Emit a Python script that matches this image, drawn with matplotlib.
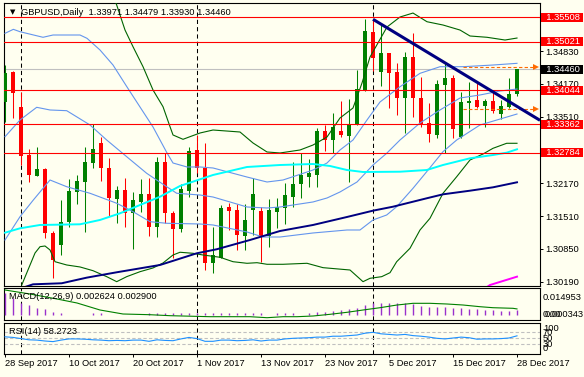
import numpy as np
import pandas as pd
import matplotlib
matplotlib.use("Agg")
import matplotlib.pyplot as plt
import matplotlib.transforms as mtrans

plt.rcParams["font.family"] = ["Liberation Sans", "DejaVu Sans"]
plt.rcParams["font.size"] = 6.7

W, H = 584, 377
BG = "#FFFFF0"
UP, DN = "#008000", "#FF0000"

# daily bars 28 Sep - 28 Dec 2017 (no bar on 25 Dec)
dates = pd.bdate_range("2017-09-28", "2017-12-28")
dates = dates[dates != pd.Timestamp("2017-12-25")]
# bar numbers, 0 = 2 Oct 2017 (first bar of October)
x = np.arange(len(dates)) - 2

opens = [1.33812, 1.34403, 1.33699, 1.32739, 1.32323, 1.32458, 1.31176, 1.30928, 1.31385, 1.32001,
         1.32202, 1.32584, 1.32975, 1.32484, 1.31854, 1.32035, 1.31566, 1.31800, 1.31955, 1.31297,
         1.32592, 1.31578, 1.31250, 1.32015, 1.32840, 1.32484, 1.30560, 1.30673, 1.31687, 1.31633,
         1.31116, 1.31633, 1.31613, 1.31116, 1.31598, 1.31679, 1.31900, 1.32156, 1.32303, 1.32337,
         1.33222, 1.33041, 1.33222, 1.33128, 1.33357, 1.34047, 1.35208, 1.34415, 1.34786, 1.34415,
         1.33880, 1.34717, 1.33892, 1.33377, 1.33142, 1.34148, 1.34295, 1.33095, 1.33792, 1.33846,
         1.33731, 1.33832, 1.33564, 1.33711, 1.33971]
highs = [1.34550, 1.34429, 1.34001, 1.32860, 1.32906, 1.32472, 1.31210, 1.31834, 1.32256, 1.32337,
         1.32906, 1.33357, 1.33095, 1.32673, 1.32122, 1.32283, 1.31989, 1.32256, 1.32283, 1.32705,
         1.32774, 1.31613, 1.32150, 1.32894, 1.33142, 1.32975, 1.31297, 1.31733, 1.31780, 1.31753,
         1.31747, 1.32270, 1.31699, 1.31854, 1.31880, 1.32170, 1.32592, 1.32774, 1.32659, 1.33277,
         1.33343, 1.33578, 1.33826, 1.33860, 1.34450, 1.35470, 1.35470, 1.35389, 1.34798, 1.34584,
         1.34818, 1.35200, 1.34315, 1.33792, 1.34248, 1.34584, 1.34349, 1.34013, 1.34214, 1.34194,
         1.33860, 1.34027, 1.33846, 1.34283, 1.34479]
lows = [1.33409, 1.33478, 1.32538, 1.32202, 1.32310, 1.31063, 1.30258, 1.30727, 1.31297, 1.31747,
        1.31196, 1.32472, 1.32222, 1.31518, 1.31377, 1.31297, 1.30848, 1.31598, 1.31116, 1.31095,
        1.31377, 1.30673, 1.31196, 1.31900, 1.32371, 1.30425, 1.30371, 1.30661, 1.31230, 1.30828,
        1.30828, 1.31130, 1.30592, 1.30894, 1.31277, 1.31345, 1.31699, 1.31868, 1.32101, 1.32101,
        1.32826, 1.32774, 1.33095, 1.32202, 1.33340, 1.34030, 1.34435, 1.34128, 1.33679, 1.33544,
        1.33176, 1.33510, 1.33309, 1.33007, 1.33075, 1.32786, 1.33087, 1.33087, 1.33277, 1.33679,
        1.33297, 1.33578, 1.33458, 1.33691, 1.33930]
closes = [1.34383, 1.33981, 1.32725, 1.32337, 1.32458, 1.31164, 1.30627, 1.31385, 1.32015, 1.32216,
          1.32592, 1.32860, 1.32484, 1.31880, 1.32035, 1.31566, 1.31834, 1.31955, 1.31297, 1.32592,
          1.31566, 1.31244, 1.32055, 1.32820, 1.32472, 1.30560, 1.30727, 1.31679, 1.31619, 1.31130,
          1.31431, 1.31955, 1.31116, 1.31633, 1.31687, 1.31934, 1.32156, 1.32337, 1.32371, 1.33222,
          1.33041, 1.33309, 1.33142, 1.33357, 1.34067, 1.35240, 1.34685, 1.34786, 1.34383, 1.33880,
          1.34717, 1.33880, 1.33357, 1.33156, 1.34168, 1.34295, 1.33262, 1.33812, 1.33832, 1.33711,
          1.33832, 1.33631, 1.33725, 1.33961, 1.34460]

# indicator lines: (bar number, price)
blue_up_x = [-2, -0.96, -0.125, 2.75, 4, 7.375, 8.25, 9.875, 11.5, 13.25, 14.875, 16.5, 18.25, 19,
             20.75, 22.375, 24, 28.25, 30.75, 32.75, 36.5, 38.25, 39.875, 41.5, 43.25, 44.875,
             47.375, 49.875, 52.375, 55.25, 59, 62]
blue_up_y = [1.35188, 1.35268, 1.35220, 1.35108, 1.35154, 1.35154, 1.35087, 1.34852, 1.34550,
             1.34108, 1.33705, 1.33303, 1.32780, 1.32578, 1.32498, 1.32498, 1.32478, 1.32296,
             1.32196, 1.32236, 1.32437, 1.32578, 1.32840, 1.33041, 1.33444, 1.33806, 1.34113,
             1.34383, 1.34516, 1.34516, 1.34550, 1.34584]
blue_mid_x = [-2, -0.125, 1.96, 3.625, 5.71, 8.625, 10.71, 13.21, 15.71, 18.21, 19.46, 22.375, 24,
              28.25, 30.75, 32.375, 36.5, 38.25, 39.875, 42, 44, 45.71, 47.375, 49.875, 52.375,
              54.875, 57.375, 59.875, 62]
blue_mid_y = [1.33108, 1.33444, 1.33699, 1.33645, 1.33631, 1.33343, 1.33041, 1.32705, 1.32371,
              1.32101, 1.31969, 1.31934, 1.31894, 1.31693, 1.31673, 1.31693, 1.31794, 1.31874,
              1.31995, 1.32196, 1.32538, 1.32774, 1.33041, 1.33383, 1.33645, 1.33886, 1.33947,
              1.34027, 1.34067]
blue_lo_x = [-2, -0.125, 1.54, 3.625, 5.71, 8.625, 11.96, 14, 16.125, 18.21, 22.375, 24, 28.25,
             30.25, 32.375, 36.5, 40.75, 42.375, 44, 45.71, 46.96, 49, 50.71, 52.75, 54.46,
             57.375, 62]
blue_lo_y = [1.31029, 1.31498, 1.31834, 1.32236, 1.32101, 1.31969, 1.31768, 1.31599, 1.31397,
             1.31365, 1.31351, 1.31331, 1.31190, 1.31089, 1.31089, 1.31170, 1.31230, 1.31230,
             1.31432, 1.31532, 1.31699, 1.32069, 1.32403, 1.32806, 1.33041, 1.33343, 1.33564]
green_up_x = [11.125, 11.96, 13, 14, 15.25, 16.5, 17.75, 18.625, 19, 20.25, 21.125, 22.375, 24,
              27.375, 29, 30.75, 32.375, 34.875, 36.5, 38.25, 39.875, 41.5, 42.625, 43.625,
              45.75, 47.375, 49, 50.75, 52.75, 54.875, 56.125, 58.25, 60.5, 62]
green_up_y = [1.36100, 1.35757, 1.35254, 1.34918, 1.34516, 1.34047, 1.33711, 1.33309, 1.33142,
              1.33055, 1.33108, 1.33182, 1.33242, 1.33202, 1.32981, 1.32800, 1.32780, 1.32840,
              1.32940, 1.33102, 1.33484, 1.33685, 1.34188, 1.34711, 1.35315, 1.35516, 1.35596,
              1.35421, 1.35355, 1.35254, 1.35134, 1.35108, 1.35053, 1.35093]
green_lo_x = [0.09, 1.75, 2.375, 3, 3.625, 4.25, 5.71, 7.375, 9, 10.71, 11.96, 13.21, 14.875,
              16.5, 17.75, 19, 19.875, 21.5, 22.75, 24.875, 26.5, 28.25, 29.5, 30.75, 32.75,
              35.75, 37.75, 41.125, 42.75, 43.625, 45.09, 46.125, 46.96, 48.625, 49.875,
              51.125, 52.75, 54.46, 56.125, 57.75, 59, 60.71, 62]
green_lo_y = [1.30123, 1.30767, 1.30894, 1.30908, 1.30828, 1.30592, 1.30526, 1.30486, 1.30411,
              1.30291, 1.30190, 1.30291, 1.30391, 1.30466, 1.30566, 1.30727, 1.30782, 1.30761,
              1.30727, 1.30681, 1.30592, 1.30560, 1.30572, 1.30540, 1.30540, 1.30560, 1.30472,
              1.30425, 1.30190, 1.30258, 1.30291, 1.30371, 1.30592, 1.30862, 1.31230, 1.31466,
              1.31969, 1.32302, 1.32639, 1.32759, 1.32874, 1.32975, 1.32975]
cyan_x = [-2, -0.125, 2.375, 7.375, 9.875, 12.375, 14.875, 17.375, 19.875, 24, 28.25, 32.375,
          36.5, 38.625, 40.75, 42.75, 47.375, 50.71, 52.75, 56.125, 59, 60.71, 62]
cyan_y = [1.31176, 1.31264, 1.31331, 1.31345, 1.31432, 1.31566, 1.31733, 1.31900, 1.32116,
          1.32337, 1.32498, 1.32538, 1.32558, 1.32518, 1.32437, 1.32397, 1.32403, 1.32437,
          1.32538, 1.32673, 1.32739, 1.32786, 1.32854]
navy_x = [0.5, 1.5, 5.09, 8.21, 11.96, 17.375, 21.96, 24.46, 28.625, 32.375, 36.5, 40.75, 44,
          46.5, 50.71, 52.75, 56.125, 59, 62]
navy_y = [1.30083, 1.30137, 1.30158, 1.30271, 1.30379, 1.30526, 1.30761, 1.30842, 1.31029,
          1.31210, 1.31331, 1.31492, 1.31619, 1.31699, 1.31868, 1.31948, 1.32021, 1.32089,
          1.32190]
magenta_x = [58.25, 58.625, 60.25, 62]
magenta_y = [1.30083, 1.30123, 1.30204, 1.30291]

trend_x = [44, 64.875]
trend_y = [1.35470, 1.33437]

red_levels = [1.35508, 1.35021, 1.34044, 1.33362, 1.32784]
bid = 1.34460
order_levels = [1.34504, 1.33665]
order_from, order_to = 55.3, 64.4
price_ticks = [1.34830, 1.34170, 1.33510, 1.32170, 1.31510, 1.30850, 1.30190]

macd_hist = [0.01037, 0.00798, 0.00588, 0.00478, 0.00320, 0.00272, 0.00158, 0.00110, 0.0001, 0.0001,
             0.0001, 0.00081, 0.00081, 0.0001, 0.0001, 0.0001, 0.0001, 0.0001, 0.00081, 0.00081,
             0.00081, 0.00081, 0.00081, 0.00081, 0.00081, 0.00081, 0.00081, 0.00081, 0.00081, 0.00081,
             0.00081, 0.00081, 0.00081, 0.0001, 0.00081, 0.00081, 0.00081, 0.0001, 0.00110, 0.00158,
             0.00158, 0.00191, 0.00239, 0.00272, 0.00349, 0.00478, 0.00559, 0.00559, 0.00588, 0.00559,
             0.00559, 0.00511, 0.00430, 0.00397, 0.00397, 0.00397, 0.00320, 0.00320, 0.00272, 0.00272,
             0.00239, 0.00239, 0.00206, 0.00206, 0.002624]
signal_x = [-2, 1.125, 4.5, 7, 9.875, 12.75, 16.125, 18.625, 23.625, 28.625, 30.75, 32.75, 34.5,
            36.5, 38.625, 40.75, 42.75, 44.875, 47, 49, 51.125, 53.25, 55.25, 57.375, 59, 61.5, 62]
signal_y = [0.01195, 0.01004, 0.00765, 0.00574, 0.00239, 0.00048, 0.00014, -0.00033, -0.00081,
            -0.00081, -0.00129, -0.00081, -0.00081, -0.00048, 0.00033, 0.00129, 0.00239, 0.00349,
            0.00478, 0.00559, 0.00559, 0.00526, 0.00478, 0.00397, 0.00349, 0.00320, 0.00290]

rsi = [55, 53, 49, 45, 44, 41, 39, 44, 48, 48, 47, 45, 44, 42, 43, 42, 44, 44, 40, 45,
       43, 42, 48, 53, 49, 40, 40, 44, 44, 42, 43, 45, 41, 44, 44, 48, 50, 51, 52, 54,
       54, 57, 57, 59, 61, 67, 70, 65, 63, 61, 63, 59, 57, 54, 50, 48, 51, 54, 52, 47,
       48, 48, 49, 51, 58.27]
rsi_levels = [70, 50, 30]


def box(top, bottom, left=3.5, right=540):
    return [left / W, 1 - bottom / H, (right - left) / W, (bottom - top) / H]


fig = plt.figure(figsize=(W / 100, H / 100), dpi=100, facecolor=BG)
ax = fig.add_axes(box(3, 286))
axm = fig.add_axes(box(287.5, 320), sharex=ax)
axr = fig.add_axes(box(322.5, 354), sharex=ax)

for a in (ax, axm, axr):
    a.set_facecolor(BG)
    for s in a.spines.values():
        s.set_color("black")
        s.set_linewidth(0.8)
    a.tick_params(bottom=False, labelbottom=False, left=False, labelleft=False)

ax.set_xlim(-2.19, 64.875)
ax.set_ylim(1.30103, 1.35798)

# month separators
month_x = [x[i] for i in range(1, len(dates)) if dates[i].month != dates[i - 1].month]
for a in (ax, axm, axr):
    for mx in month_x:
        a.axvline(mx, color="black", lw=0.75, dashes=(4, 3), zorder=1)

# candles
o, h, l, c = map(np.array, (opens, highs, lows, closes))
col = np.where(c >= o, UP, DN)
ax.vlines(x, l, h, colors=col, lw=0.75, zorder=3)
ax.bar(x, np.maximum(np.abs(c - o), 0.00005), bottom=np.minimum(o, c), width=0.6,
       color=col, lw=0, zorder=3)

# indicators
ax.plot(blue_up_x, blue_up_y, color="#6495ED", lw=0.8, zorder=4)
ax.plot(blue_mid_x, blue_mid_y, color="#6495ED", lw=0.8, zorder=4)
ax.plot(blue_lo_x, blue_lo_y, color="#6495ED", lw=0.8, zorder=4)
ax.plot(green_up_x, green_up_y, color="#006400", lw=0.8, zorder=4)
ax.plot(green_lo_x, green_lo_y, color="#006400", lw=0.8, zorder=4)
ax.plot(cyan_x, cyan_y, color="#00FFFF", lw=1.4, zorder=4)
ax.plot(navy_x, navy_y, color="#000080", lw=1.4, zorder=4)
ax.plot(magenta_x, magenta_y, color="#FF00FF", lw=1.4, zorder=4)

# horizontal levels
ax.axhline(bid, color="#C0C0C0", lw=0.8, zorder=2)
for lv in red_levels:
    ax.axhline(lv, color="#FF0000", lw=0.8, zorder=4)
for lv in order_levels:
    ax.plot([order_from, order_to], [lv, lv], color="#FF6A00", lw=0.8, dashes=(3, 2), zorder=4)
    ax.plot([order_to], [lv], marker=">", color="#FF6A00", ms=4.5, mew=0, zorder=4,
            clip_on=False)

ax.plot(trend_x, trend_y, color="#000080", lw=2.2, zorder=5, solid_capstyle="butt")

# price axis
ax.yaxis.tick_right()
ax.set_yticks(price_ticks)
ax.set_yticklabels([f"{v:.5f}" for v in price_ticks])
ax.tick_params(axis="y", right=True, labelright=True, length=2.2, width=0.7, pad=1.8,
               labelsize=6.7, colors="black")

lab_tr = mtrans.blended_transform_factory(ax.transAxes, ax.transData)
for lv in red_levels:
    ax.text(1 + 1.2 / 536.5, lv, f"  {lv:.5f} ", transform=lab_tr, ha="left", va="center",
            color="white", fontsize=6.7, clip_on=False, zorder=10,
            bbox=dict(boxstyle="square,pad=0", fc="#FF0000", ec="none"))
ax.text(1 + 1.2 / 536.5, bid, f"  {bid:.5f} ", transform=lab_tr, ha="left", va="center",
        color="white", fontsize=6.7, clip_on=False, zorder=10,
        bbox=dict(boxstyle="square,pad=0", fc="black", ec="none"))

ax.text(0.013, 0.9664, "\u25BC", transform=ax.transAxes, ha="left", va="center",
        fontsize=5, color="black", family=["DejaVu Sans"], zorder=11)
ax.text(0.0321, 0.9664, "GBPUSD,Daily  1.33971 1.34479 1.33930 1.34460",
        transform=ax.transAxes, ha="left", va="center", fontsize=6.7, color="black", zorder=11)

# MACD
axm.set_ylim(-0.00239, 0.01315)
axm.vlines(x, 0, macd_hist, colors="#9932CC", lw=1.0, zorder=3)
axm.plot(signal_x, signal_y, color="#008000", lw=0.8, zorder=4)
axm.text(0.0103, 0.729, "MACD(12,26,9) 0.002624 0.002900", transform=axm.transAxes,
         ha="left", va="center", fontsize=6.7, zorder=6)
axm.text(1.0056, 0.698, "0.014953", transform=axm.transAxes, ha="left", va="center",
         fontsize=6.7, clip_on=False)
axm.text(1.0056, 0.175, "0.00", transform=axm.transAxes, ha="left", va="center",
         fontsize=6.7, clip_on=False)
axm.text(1.0085, 0.175, "0.000343", transform=axm.transAxes, ha="left", va="center",
         fontsize=6.7, clip_on=False)

# RSI
axr.set_ylim(-2.3, 102.7)
for lv in rsi_levels:
    axr.axhline(lv, color="#C0C0C0", lw=0.8, dashes=(3, 2), zorder=2)
axr.plot(x, rsi, color="#1E90FF", lw=0.8, zorder=4)
axr.text(0.0103, 0.714, "RSI(14) 58.2723", transform=axr.transAxes, ha="left", va="center",
         fontsize=6.7, zorder=6)
for txt, fy in (("100", 0.8095), ("70", 0.683), ("50", 0.498), ("30", 0.308), ("0", 0.175)):
    axr.text(1.0056, fy, txt, transform=axr.transAxes, ha="left", va="center",
             fontsize=6.7, clip_on=False)

# date axis
label_bars = [0, 8, 16, 24, 32, 40, 48, 56, 64]
axr.set_xticks(x[label_bars])
axr.set_xticklabels([f"{dates[i].day} {dates[i]:%b %Y}" for i in label_bars])
axr.tick_params(axis="x", bottom=True, labelbottom=True, length=2.2, width=0.7, pad=1.5,
                labelsize=6.7, colors="black")
for t in axr.get_xticklabels():
    t.set_horizontalalignment("left")

fig.savefig("out.png", dpi=100, facecolor=BG)
